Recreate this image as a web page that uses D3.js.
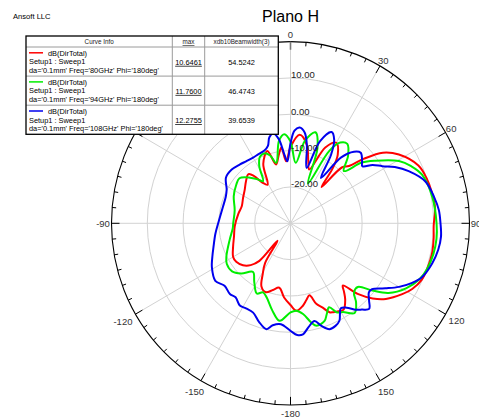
<!DOCTYPE html>
<html>
<head>
<meta charset="utf-8">
<script src="https://cdn.jsdelivr.net/npm/d3@7"></script>
<style>
  html, body { margin: 0; padding: 0; background: #fff; }
  svg { display: block; font-family: "Liberation Sans", Arial, sans-serif; }
</style>
</head>
<body>
<svg id="chart" width="479" height="419"></svg>
<script>
// Directivity dB(DirTotal) in the H plane, three frequencies.
const redAngles = [-180,-175,-170,-165,-160,-155,-151,-147,-143,-140,-136,-131,-125,-120,-112,-103,-93,-80,-71,-62,-54,-47,-41,-38,-35,-31,-25,-18,-14,-10,-7,-4,0,6,12,16,19.5,25,30,35,38,41,43,46,49,53,58,66,72,78,84,91,96,102,108,113,118,122,128,132,136,139.5,141.5,144,148,151,154,156,159,162,165,168,171.5,176];
const redDb = [-7.5,-9.5,-12.0,-11.0,-9.8,-10.8,-14.0,-17.0,-24.0,-16.5,-14.0,-12.4,-11.5,-11.5,-12.7,-13.8,-14.4,-15.2,-15.6,-15.0,-14.2,-13.0,-12.1,-13.5,-16.3,-17.6,-12,-9.1,-13.3,-11,-9.0,-12.9,-9,-5.5,-8,-12,-14.3,-7,-4.4,-7,-11,-16.8,-9,-7.3,-3,2.3,5.7,9.1,10.0,10.4,10.6,10.0,10.2,10.4,10.2,9.8,8.5,6.8,3.8,0.9,-3,-7.5,-6,-4,-2.0,-2.3,-2.8,-3.2,-5.2,-6.7,-9.5,-8.5,-7.0,-5.9];

const greenAngles = [-180,-173.5,-168,-162,-158,-154,-148,-142,-135,-129,-122,-117,-105,-95,-90,-77,-65,-55,-49,-42,-37,-33.5,-29,-25,-21,-17,-13.5,-8,-4,0,5,10,15.5,20,24,28.5,32,36,41,46,50,54,60.5,65,70,80,90,96,102,108,113,119,125,129,133,137,140,144,149,152,155,158,160.5,165.5,168,172,176];
const greenDb = [-5.5,-3.0,-5.5,-8.5,-9.5,-8.5,-10.9,-13.0,-10.5,-9.0,-9.0,-9.9,-12.4,-13.8,-14.0,-14.0,-12.5,-11.5,-11.1,-13.1,-14.9,-16.1,-12,-9.8,-9.4,-10.5,-12.9,-7,-5.4,-7.5,-13.3,-7,-4.0,-8,-18,-7.4,-3.8,-3.0,-5.5,-9.3,-4,-0.7,4.8,7.2,9.1,10.3,10.8,11.0,10.8,10.2,9.2,6.9,3.4,-0.6,-4.3,-4.0,-1.5,0.5,-1.5,-2.2,-4.5,-3.0,-1.5,-0.9,-2.1,-4.8,-5.9];

const blueAngles = [-180,-174.5,-170,-167,-162,-157,-152,-148,-143,-139,-133,-127,-119,-112,-107,-98,-90,-76,-68,-62.5,-55,-48,-41,-36,-30,-25.5,-20,-16.5,-14,-11,-8,-5.5,-3,0,2.5,5.5,9,12,16.5,20,24.5,28,31,34.3,38,42,45.3,49,52,55,58.5,62,66.5,73,80,85,90,95,100,105.5,112,116,120,124,128.5,131,134,137,140,142.5,146,149,151,153,156,159.5,163,166,170,173.5,176.5];
const blueDb = [-0.4,-2.1,-1.5,-0.1,-1.5,-3.3,-3.5,-3.3,-4.5,-4.2,-4.8,-3.7,-4.9,-6.5,-7.5,-8.8,-9.8,-10.6,-10.5,-9.9,-8.0,-7.9,-8.5,-8.9,-9.1,-9.0,-8.7,-7.8,-5.6,-4.8,-6.6,-10.5,-12.9,-8,-4.5,-3.5,-4.7,-8,-14.1,-6,-2.4,-4,-8,-14.9,-7,-3.5,-2.4,-3.5,-4.5,-2,0.1,3,6.0,9.4,10.8,11.6,11.9,12.2,11.9,11.1,9.6,7.6,5.0,2.0,-0.9,-1,0.5,2.2,1.0,0.0,-2.0,-2.7,-1.5,0.1,0.9,1.1,-0.5,-2.3,-1.0,0.75,0.8];

const seriesColors = ["#ff0000", "#00ee00", "#0000ee"];
const seriesExpr = ["dB(DirTotal)", "dB(DirTotal)", "dB(DirTotal)"];
const seriesSetup = ["Setup1 : Sweep1", "Setup1 : Sweep1", "Setup1 : Sweep1"];
const seriesVars = [
  "da='0.1mm' Freq='80GHz' Phi='180deg'",
  "da='0.1mm' Freq='94GHz' Phi='180deg'",
  "da='0.1mm' Freq='108GHz' Phi='180deg'"
];
const maxValues = ["10.6461", "11.7600", "12.2755"];
const beamwidthValues = ["54.5242", "46.4743", "39.6539"];
const legendHeaders = ["Curve Info", "max", "xdb10Beamwidth(3)"];

const ringValues = [-20, -10, 0, 10];
const ringLabels = ["-20.00", "-10.00", "0.00", "10.00"];
// the -30 and -60 labels sit under the legend table and are not drawn
const angleTickValues = [0, 30, 60, 90, 120, 150, 180, -150, -120, -90];
const angleTickLabels = ["0", "30", "60", "90", "120", "150", "-180", "-150", "-120", "-90"];

const titleText = "Plano H";
const vendorText = "Ansoft LLC";

// ---- geometry ----
const svg = d3.select("#chart");
const cx = 290.5, cy = 223.3, R = 179, ky = 1.015;
const rScale = d3.scaleLinear().domain([-30, 20]).range([0, R]);
const rad = d => d * Math.PI / 180;

const plot = svg.append("g")
  .attr("transform", `translate(${cx},${cy}) scale(1,${ky})`);

// grid rings
plot.selectAll("circle.ring").data(ringValues).join("circle")
  .attr("class", "ring")
  .attr("r", d => rScale(d))
  .attr("fill", "none")
  .attr("stroke", "#d2d2d2")
  .attr("stroke-width", 1)
  .attr("vector-effect", "non-scaling-stroke");

// spokes every 30 degrees
plot.selectAll("line.spoke").data(d3.range(0, 360, 30)).join("line")
  .attr("class", "spoke")
  .attr("x1", 0).attr("y1", 0)
  .attr("x2", d => R * Math.sin(rad(d)))
  .attr("y2", d => -R * Math.cos(rad(d)))
  .attr("stroke", "#d2d2d2")
  .attr("stroke-width", 1)
  .attr("vector-effect", "non-scaling-stroke");

// outer boundary
plot.append("circle")
  .attr("r", R)
  .attr("fill", "none")
  .attr("stroke", "#000")
  .attr("stroke-width", 1.1)
  .attr("vector-effect", "non-scaling-stroke");

// angular ticks every 5 degrees, longer every 30
plot.selectAll("line.tick").data(d3.range(0, 360, 5)).join("line")
  .attr("class", "tick")
  .attr("x1", d => R * Math.sin(rad(d)))
  .attr("y1", d => -R * Math.cos(rad(d)))
  .attr("x2", d => (R - (d % 30 === 0 ? 8 : 4)) * Math.sin(rad(d)))
  .attr("y2", d => -(R - (d % 30 === 0 ? 8 : 4)) * Math.cos(rad(d)))
  .attr("stroke", d => d === 0 ? "#777" : "#000")
  .attr("stroke-width", d => d === 0 ? 1.6 : 1)
  .attr("vector-effect", "non-scaling-stroke");

// angle labels: centred just outside the rim, a little further out on the lower slopes
const labelRadius = (d, i) => {
  const s = Math.abs(Math.sin(rad(d))), c = Math.cos(rad(d));
  return R + 6.5 + 2 * (angleTickLabels[i].length - 2) * s + (c < -0.1 && c > -0.95 ? 4.5 : 0) + (c <= -0.95 ? 2 : 0);
};
svg.append("g").selectAll("text").data(angleTickValues).join("text")
  .attr("x", (d, i) => cx + labelRadius(d, i) * Math.sin(rad(d)))
  .attr("y", (d, i) => cy - labelRadius(d, i) * ky * Math.cos(rad(d)))
  .attr("dy", "0.35em")
  .attr("text-anchor", "middle")
  .attr("font-size", 9.5)
  .attr("fill", "#333")
  .text((d, i) => angleTickLabels[i]);

// ring value labels
svg.append("g").selectAll("text").data(ringValues).join("text")
  .attr("x", cx + 0.5)
  .attr("y", d => cy - rScale(d) * ky + 0.5)
  .attr("font-size", 9.5)
  .attr("fill", "#222")
  .text((d, i) => ringLabels[i]);

// curves
const radial = d3.lineRadial()
  .angle(d => rad(d[0]))
  .radius(d => rScale(d[1]))
  .curve(d3.curveCatmullRomClosed.alpha(0.5));

const series = [
  d3.zip(redAngles, redDb),
  d3.zip(greenAngles, greenDb),
  d3.zip(blueAngles, blueDb)
];

plot.selectAll("path.trace").data(series).join("path")
  .attr("class", "trace")
  .attr("d", d => radial(d))
  .attr("fill", "none")
  .attr("stroke", (d, i) => seriesColors[i])
  .attr("stroke-width", 2)
  .attr("stroke-linejoin", "round")
  .attr("vector-effect", "non-scaling-stroke");

// title and vendor text
svg.append("text")
  .attr("x", cx).attr("y", 22)
  .attr("text-anchor", "middle")
  .attr("font-size", 16)
  .attr("fill", "#000")
  .text(titleText);

svg.append("text")
  .attr("x", 13).attr("y", 19)
  .attr("font-size", 7.6)
  .attr("fill", "#000")
  .text(vendorText);

// legend table
const lg = svg.append("g");
const L = { x0: 26, y0: 36, x1: 278.3, y1: 134.3, c1: 172.3, c2: 204.7, head: 47 };
const rowH = (L.y1 - L.head) / 3;

lg.append("rect")
  .attr("x", L.x0).attr("y", L.y0)
  .attr("width", L.x1 - L.x0).attr("height", L.y1 - L.y0)
  .attr("fill", "#fff");

// inner grid lines
[L.c1, L.c2].forEach(x => lg.append("line")
  .attr("x1", x).attr("x2", x).attr("y1", L.y0).attr("y2", L.y1)
  .attr("stroke", "#9a9a9a").attr("stroke-width", 1));
[L.head, L.head + rowH, L.head + 2 * rowH].forEach(y => lg.append("line")
  .attr("x1", L.x0).attr("x2", L.x1).attr("y1", y).attr("y2", y)
  .attr("stroke", "#9a9a9a").attr("stroke-width", 1));

lg.append("rect")
  .attr("x", L.x0).attr("y", L.y0)
  .attr("width", L.x1 - L.x0).attr("height", L.y1 - L.y0)
  .attr("fill", "none").attr("stroke", "#000").attr("stroke-width", 1.3);

// header
const headX = [(L.x0 + L.c1) / 2, (L.c1 + L.c2) / 2, (L.c2 + L.x1) / 2];
lg.selectAll("text.head").data(legendHeaders).join("text")
  .attr("class", "head")
  .attr("x", (d, i) => headX[i]).attr("y", 44)
  .attr("text-anchor", "middle")
  .attr("font-size", 6.3)
  .attr("fill", "#222")
  .attr("text-decoration", (d, i) => i === 1 ? "underline" : null)
  .text(d => d);

// rows
seriesColors.forEach((col, i) => {
  const top = L.head + i * rowH;
  lg.append("line")
    .attr("x1", 29).attr("x2", 43)
    .attr("y1", top + 5.8).attr("y2", top + 5.8)
    .attr("stroke", col).attr("stroke-width", 1.5);
  lg.append("text").attr("x", 48).attr("y", top + 8.6)
    .attr("font-size", 7.4).text(seriesExpr[i]);
  lg.append("text").attr("x", 29).attr("y", top + 17.3)
    .attr("font-size", 7.4).text(seriesSetup[i]);
  lg.append("text").attr("x", 29).attr("y", top + 25.9)
    .attr("font-size", 7.4).text(seriesVars[i]);
  lg.append("text").attr("x", headX[1]).attr("y", top + 17.8)
    .attr("text-anchor", "middle")
    .attr("font-size", 7.4).attr("text-decoration", "underline")
    .text(maxValues[i]);
  lg.append("text").attr("x", headX[2]).attr("y", top + 17.8)
    .attr("text-anchor", "middle")
    .attr("font-size", 7.4)
    .text(beamwidthValues[i]);
});
</script>
</body>
</html>
